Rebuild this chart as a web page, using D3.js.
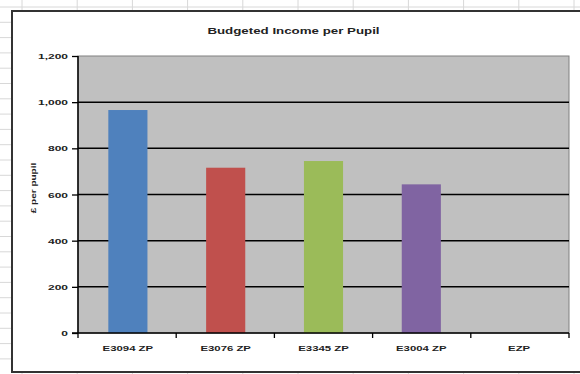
<!DOCTYPE html>
<html><head><meta charset="utf-8">
<script src="https://cdn.jsdelivr.net/npm/d3@7"></script>
<style>html,body{margin:0;padding:0;background:#fff;overflow:hidden}svg{display:block}</style>
</head><body>
<svg id="c" width="580" height="374"></svg>
<script>
const categories = ["E3094 ZP", "E3076 ZP", "E3345 ZP", "E3004 ZP", "EZP"];
const values = [966, 716, 745, 644, 0];
const barColors = ["#4f81bd", "#c0504d", "#9bbb59", "#8064a2", "#4bacc6"];
const yTicks = [0, 200, 400, 600, 800, 1000, 1200];
const title = "Budgeted Income per Pupil";
const yTitle = "£ per pupil";

const svg = d3.select("#c");
const W = 580, H = 374;
const FONT = "'Liberation Sans', Arial, sans-serif";

// spreadsheet grid behind the chart object
const bg = svg.append("g");
for (let x = 22; x < W; x += 55.2) bg.append("line").attr("x1", x).attr("x2", x).attr("y1", 0).attr("y2", H).attr("stroke", "#d8d8d8");
for (let y = 7; y < H; y += 15.3) bg.append("line").attr("x1", 0).attr("x2", W).attr("y1", y).attr("y2", y).attr("stroke", "#d8d8d8");

// chart frame
svg.append("rect").attr("x", 12).attr("y", 11).attr("width", 620).attr("height", 361)
  .attr("fill", "#fff").attr("stroke", "#333").attr("stroke-width", 2);

const plot = {l: 78, r: 569, t: 56, b: 333};
const x = d3.scaleBand().domain(categories).range([plot.l, plot.r]).paddingInner(0.6).paddingOuter(0.31);
const y = d3.scaleLinear().domain([0, 1200]).range([plot.b, plot.t]);

svg.append("rect").attr("x", plot.l).attr("y", plot.t).attr("width", plot.r - plot.l).attr("height", plot.b - plot.t)
  .attr("fill", "#c0c0c0").attr("stroke", "#808080").attr("stroke-width", 1);

// gridlines
svg.append("g").selectAll("line").data(yTicks.filter(d => d > 0 && d < 1200)).join("line")
  .attr("x1", plot.l).attr("x2", plot.r).attr("y1", d => y(d)).attr("y2", d => y(d))
  .attr("stroke", "#000").attr("stroke-width", 1.5);

// bars
svg.append("g").selectAll("rect").data(categories).join("rect")
  .attr("x", d => x(d)).attr("width", x.bandwidth())
  .attr("y", (d, i) => y(values[i])).attr("height", (d, i) => y(0) - y(values[i]))
  .attr("fill", (d, i) => barColors[i]);

function stretch(sel, k) {
  sel.each(function () {
    const len = this.getComputedTextLength();
    d3.select(this).attr("textLength", len * k).attr("lengthAdjust", "spacingAndGlyphs");
  });
}

// y axis
const yAxis = svg.append("g").attr("transform", `translate(${plot.l},0)`)
  .call(d3.axisLeft(y).tickValues(yTicks).tickSize(6).tickPadding(4).tickFormat(d3.format(",")));
yAxis.select(".domain").attr("stroke", "#000").attr("stroke-width", 1.5).attr("d", `M0,${plot.t}V${plot.b}`);
yAxis.selectAll(".tick line").attr("stroke", "#000").attr("stroke-width", 1.3);
yAxis.selectAll("text").attr("font-family", FONT).attr("font-size", 8).attr("font-weight", "bold").attr("fill", "#222").call(stretch, 1.5);

// x axis
const step = x.step();
const boundaries = d3.range(categories.length + 1).map(i => plot.l + i * (plot.r - plot.l) / categories.length);
const xg = svg.append("g");
xg.append("line").attr("x1", plot.l - 6).attr("x2", plot.r).attr("y1", plot.b).attr("y2", plot.b).attr("stroke", "#000").attr("stroke-width", 1.5);
xg.selectAll(".tk").data(boundaries).join("line").attr("class", "tk")
  .attr("x1", d => d).attr("x2", d => d).attr("y1", plot.b).attr("y2", plot.b + 5).attr("stroke", "#000").attr("stroke-width", 1.3);
xg.selectAll("text").data(categories).join("text")
  .attr("x", d => x(d) + x.bandwidth() / 2).attr("y", 350.5).attr("text-anchor", "middle")
  .attr("font-family", FONT).attr("font-size", 8).attr("font-weight", "bold").attr("fill", "#222")
  .text(d => d).call(stretch, 1.42);

// titles
svg.append("text").attr("x", 293.5).attr("y", 33.5).attr("text-anchor", "middle")
  .attr("font-family", FONT).attr("font-size", 9.5).attr("font-weight", "bold").attr("fill", "#222")
  .text(title).call(stretch, 1.4);
svg.append("text").attr("transform", "translate(36,188) rotate(-90)").attr("text-anchor", "middle")
  .attr("font-family", FONT).attr("font-size", 8).attr("font-weight", "bold").attr("fill", "#222")
  .text(yTitle).call(stretch, 1.25);
</script>
</body></html>
